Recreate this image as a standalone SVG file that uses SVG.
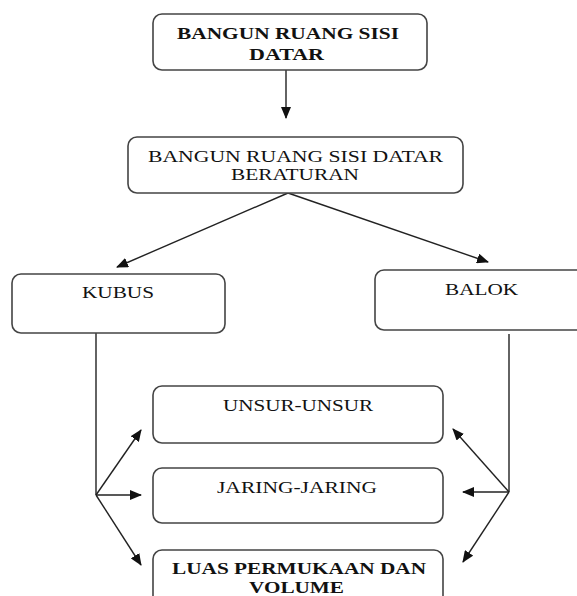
<svg xmlns="http://www.w3.org/2000/svg" width="577" height="596" viewBox="0 0 577 596">
<style>
.box{fill:#fff;stroke:#444;stroke-width:1.6}
.t{font-family:"Liberation Serif","Times New Roman",serif;font-size:17px;fill:#111;text-anchor:start}
.s{font-size:16px}
.b{font-weight:bold}
.c{fill:none;stroke:#222;stroke-width:1.4}
</style>
<defs>
<marker id="ah" markerWidth="12" markerHeight="10" refX="11" refY="5" orient="auto" markerUnits="userSpaceOnUse">
<path d="M0,0 L12,5 L0,10 Z" fill="#111"/>
</marker>
</defs>
<rect width="577" height="596" fill="#fff"/>
<g id="connectors">
<line class="c" x1="286" y1="70" x2="286" y2="118" marker-end="url(#ah)"/>
<line class="c" x1="288" y1="193" x2="117" y2="267" marker-end="url(#ah)"/>
<line class="c" x1="288" y1="193" x2="488" y2="262" marker-end="url(#ah)"/>
<polyline class="c" points="96,333 96,495"/>
<line class="c" x1="96" y1="495" x2="141" y2="430" marker-end="url(#ah)"/>
<line class="c" x1="96" y1="495" x2="141" y2="495" marker-end="url(#ah)"/>
<line class="c" x1="96" y1="495" x2="141" y2="565" marker-end="url(#ah)"/>
<polyline class="c" points="509,334 509,492"/>
<line class="c" x1="509" y1="492" x2="453" y2="429" marker-end="url(#ah)"/>
<line class="c" x1="509" y1="492" x2="463" y2="492" marker-end="url(#ah)"/>
<line class="c" x1="509" y1="492" x2="463" y2="562" marker-end="url(#ah)"/>
</g>
<g id="n-top">
<rect class="box" x="153" y="14" width="274" height="56" rx="9"/>
<text class="t b" x="177" y="39" textLength="222" lengthAdjust="spacingAndGlyphs">BANGUN RUANG SISI</text>
<text class="t b" x="249" y="60" textLength="75" lengthAdjust="spacingAndGlyphs">DATAR</text>
</g>
<g id="n-beraturan">
<rect class="box" x="128" y="137" width="335" height="56" rx="9"/>
<text class="t s" x="148" y="162" textLength="295" lengthAdjust="spacingAndGlyphs">BANGUN RUANG SISI DATAR</text>
<text class="t s" x="231" y="180" textLength="128" lengthAdjust="spacingAndGlyphs">BERATURAN</text>
</g>
<g id="n-kubus">
<rect class="box" x="12" y="274" width="213" height="59" rx="9"/>
<text class="t" x="82" y="298" textLength="72" lengthAdjust="spacingAndGlyphs">KUBUS</text>
</g>
<g id="n-balok">
<rect class="box" x="375" y="270" width="230" height="60" rx="9"/>
<text class="t" x="445" y="295" textLength="73" lengthAdjust="spacingAndGlyphs">BALOK</text>
</g>
<g id="n-unsur">
<rect class="box" x="153" y="386" width="290" height="57" rx="9"/>
<text class="t" x="223" y="411" textLength="150" lengthAdjust="spacingAndGlyphs">UNSUR-UNSUR</text>
</g>
<g id="n-jaring">
<rect class="box" x="153" y="468" width="290" height="55" rx="9"/>
<text class="t" x="217" y="493" textLength="160" lengthAdjust="spacingAndGlyphs">JARING-JARING</text>
</g>
<g id="n-luas">
<rect class="box" x="153" y="550" width="290" height="70" rx="9"/>
<text class="t b" x="172" y="574" textLength="254" lengthAdjust="spacingAndGlyphs">LUAS PERMUKAAN DAN</text>
<text class="t b" x="249" y="593" textLength="95" lengthAdjust="spacingAndGlyphs">VOLUME</text>
</g>
</svg>
